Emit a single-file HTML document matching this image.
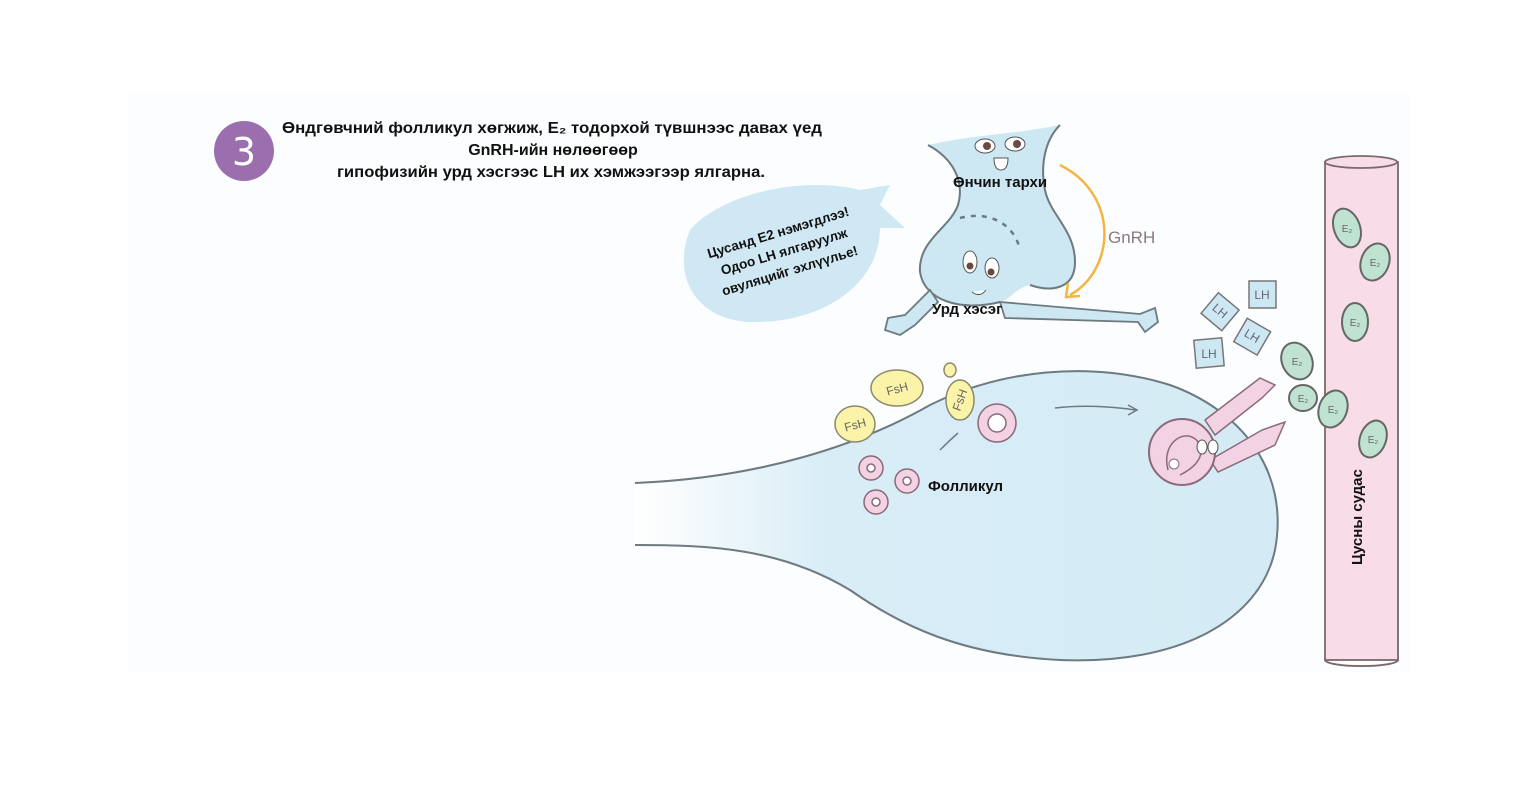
<!DOCTYPE html>
<html><head><meta charset="utf-8"><style>
body{margin:0;width:1514px;height:793px;background:#fff;overflow:hidden;position:relative;font-family:"Liberation Sans","DejaVu Sans",sans-serif}
svg{position:absolute;left:0;top:0}
</style></head><body>
<svg width="1514" height="793" viewBox="0 0 1514 793">
<defs>
<linearGradient id="bg" x1="0" x2="1" y1="0" y2="0">
<stop offset="0" stop-color="#ffffff"/><stop offset="0.3" stop-color="#d8edf6"/><stop offset="1" stop-color="#d4ebf5"/>
</linearGradient>
</defs>
<rect x="128" y="92" width="1282" height="580" fill="#fbfdfe"/>
<circle cx="244" cy="151" r="30" fill="#9b6fae"/>
<text x="244" y="165" font-size="38" fill="#fff" text-anchor="middle" font-family="DejaVu Sans">3</text>
<g font-weight="bold" font-size="16" text-anchor="middle" fill="#111">
<text x="552" y="133" textLength="540" lengthAdjust="spacingAndGlyphs">Өндгөвчний фолликул хөгжиж, E₂ тодорхой түвшнээс давах үед</text>
<text x="553" y="155">GnRH-ийн нөлөөгөөр</text>
<text x="551" y="177" textLength="428" lengthAdjust="spacingAndGlyphs">гипофизийн урд хэсгээс LH их хэмжээгээр ялгарна.</text>
</g>
<path d="M635 483 C760 478 860 445 930 405 C1000 370 1090 360 1170 385 C1240 410 1290 470 1275 550 C1260 620 1180 665 1060 660 C960 655 900 625 850 590 C780 548 710 545 635 545 Z" fill="url(#bg)"/>
<path d="M635 483 C760 478 860 445 930 405 C1000 370 1090 360 1170 385 C1240 410 1290 470 1275 550 C1260 620 1180 665 1060 660 C960 655 900 625 850 590 C780 548 710 545 635 545" fill="none" stroke="#6d7a80" stroke-width="2"/>
<path d="M1055 408 C1080 405 1110 406 1135 410" stroke="#6d7a80" stroke-width="1.5" fill="none"/>
<path d="M1128 405 L1137 410 L1128 415" stroke="#6d7a80" stroke-width="1.5" fill="none"/>
<path d="M940 450 Q950 440 958 433" stroke="#6d7a80" stroke-width="1.5" fill="none"/>
<path d="M690 230 C720 195 800 175 860 190 L890 185 L880 205 L905 228 L880 228 C880 280 830 320 760 322 C700 325 670 280 690 230 Z" fill="#cfe8f3"/>
<g transform="rotate(-17 785 255)" font-size="13.5" font-weight="bold" text-anchor="middle" fill="#111">
<text x="785" y="236">Цусанд E2 нэмэгдлээ!</text>
<text x="785" y="256">Одоо LH ялгаруулж</text>
<text x="785" y="276">овуляцийг эхлүүлье!</text>
</g>
<path d="M928 145 C952 158 965 180 958 205 C950 228 918 240 920 272 C924 300 960 312 1000 302 C1010 300 1015 288 1030 285 C1050 292 1075 290 1075 262 C1075 230 1050 215 1045 190 C1040 165 1045 140 1060 125 C1010 135 970 135 928 145 Z" fill="#cde8f3"/>
<path d="M928 145 C952 158 965 180 958 205 C950 228 918 240 920 272 C924 300 960 312 1000 302 M1030 285 C1050 292 1075 290 1075 262 C1075 230 1050 215 1045 190 C1040 165 1045 140 1060 125" fill="none" stroke="#6d7a80" stroke-width="2"/>
<path d="M960 218 C990 210 1015 225 1020 250" fill="none" stroke="#6d7a80" stroke-width="2.5" stroke-dasharray="5 6"/>
<ellipse cx="985" cy="146" rx="10" ry="7" fill="#fff" stroke="#555"/><circle cx="987" cy="146" r="4" fill="#6a4a40"/>
<ellipse cx="1015" cy="144" rx="10" ry="7" fill="#fff" stroke="#555"/><circle cx="1017" cy="144" r="4" fill="#6a4a40"/>
<path d="M994 158 h14 q0 12 -7 12 q-7 0 -7 -12z" fill="#fff" stroke="#555"/>
<ellipse cx="970" cy="262" rx="7" ry="11" fill="#fff" stroke="#555"/><circle cx="970" cy="266" r="3.5" fill="#6a4a40"/>
<ellipse cx="992" cy="268" rx="7" ry="10" fill="#fff" stroke="#555"/><circle cx="991" cy="272" r="3.5" fill="#6a4a40"/>
<path d="M972 292 q8 6 14 -2" fill="#fff" stroke="#555"/>
<path d="M1000 302 L1140 314 L1155 308 L1158 322 L1145 332 L1138 322 L1005 318 Z" fill="#cde8f3" stroke="#6d7a80" stroke-width="1.8"/>
<path d="M930 290 L905 315 L888 318 L885 330 L900 335 L915 325 L938 302 Z" fill="#cde8f3" stroke="#6d7a80" stroke-width="1.8"/>
<path d="M1060 165 C1120 195 1115 270 1070 295" fill="none" stroke="#f5b544" stroke-width="2.5"/>
<path d="M1068 283 L1066 297 L1080 296" fill="none" stroke="#f5b544" stroke-width="2.5"/>
<text x="1108" y="243" font-size="17" fill="#8a7a7a">GnRH</text>
<g font-size="15" font-weight="bold" fill="#111">
<text x="953" y="187">Өнчин тархи</text>
<text x="932" y="314">Урд хэсэг</text>
<text x="928" y="491">Фолликул</text>
</g>
<g fill="#fbf3a8" stroke="#8a8a70" stroke-width="1.5">
<ellipse cx="897" cy="388" rx="26" ry="18"/>
<ellipse cx="855" cy="424" rx="20" ry="18"/>
<ellipse cx="960" cy="400" rx="14" ry="20"/>
<ellipse cx="950" cy="370" rx="6" ry="7"/>
</g>
<g font-size="12" fill="#666" text-anchor="middle">
<text x="897" y="393" transform="rotate(-15 897 388)">FsH</text>
<text x="855" y="429" transform="rotate(-15 855 424)">FsH</text>
<text x="960" y="404" transform="rotate(-70 960 400)">FsH</text>
</g>
<g fill="#f3d3e3" stroke="#8a6a78" stroke-width="1.5">
<circle cx="997" cy="423" r="19"/><circle cx="997" cy="423" r="9" fill="#fff"/>
<circle cx="871" cy="468" r="12"/><circle cx="871" cy="468" r="4" fill="#fff"/>
<circle cx="907" cy="481" r="12"/><circle cx="907" cy="481" r="4" fill="#fff"/>
<circle cx="876" cy="502" r="12"/><circle cx="876" cy="502" r="4" fill="#fff"/>
</g>
<path d="M1205 420 L1260 378 L1275 385 L1262 398 L1215 435 Z" fill="#f3d3e3" stroke="#8a6a78" stroke-width="1.5"/>
<path d="M1210 460 L1262 430 L1285 422 L1275 445 L1218 472 Z" fill="#f3d3e3" stroke="#8a6a78" stroke-width="1.5"/>
<circle cx="1182" cy="452" r="33" fill="#f3d3e3" stroke="#8a6a78" stroke-width="2"/>
<path d="M1168 470 C1160 440 1190 425 1200 445 C1205 460 1190 470 1180 475" fill="none" stroke="#8a6a78" stroke-width="1.5"/>
<circle cx="1174" cy="464" r="5" fill="#fff" stroke="#8a6a78"/>
<ellipse cx="1202" cy="447" rx="5" ry="7" fill="#fff" stroke="#555"/>
<ellipse cx="1213" cy="447" rx="5" ry="7" fill="#fff" stroke="#555"/>
<rect x="1325" y="162" width="73" height="498" fill="#f8dde9" stroke="#7a6a6a" stroke-width="1.8"/>
<ellipse cx="1361" cy="162" rx="36" ry="6" fill="#f8dde9" stroke="#7a6a6a" stroke-width="1.8"/>
<path d="M1325 660 a36 6 0 0 0 73 0" fill="none" stroke="#7a6a6a" stroke-width="1.8"/>
<text transform="translate(1362 565) rotate(-90)" font-size="15" font-weight="bold" fill="#111">Цусны судас</text>
<g fill="#cde8f3" stroke="#777" stroke-width="1.5">
<rect x="1249" y="281" width="27" height="27"/>
<rect x="1207" y="298" width="27" height="27" transform="rotate(40 1220 311)"/>
<rect x="1239" y="323" width="27" height="27" transform="rotate(30 1252 336)"/>
<rect x="1195" y="339" width="28" height="28" transform="rotate(-5 1209 353)"/>
</g>
<g font-size="12" fill="#667" text-anchor="middle">
<text x="1262" y="299">LH</text>
<text x="1220" y="315" transform="rotate(40 1220 311)">LH</text>
<text x="1252" y="340" transform="rotate(30 1252 336)">LH</text>
<text x="1209" y="358">LH</text>
</g>
<g fill="#bfe3d0" stroke="#666" stroke-width="2">
<ellipse cx="1347" cy="228" rx="13" ry="20" transform="rotate(-20 1347 228)"/>
<ellipse cx="1375" cy="262" rx="14" ry="19" transform="rotate(20 1375 262)"/>
<ellipse cx="1355" cy="322" rx="13" ry="19"/>
<ellipse cx="1297" cy="361" rx="15" ry="19" transform="rotate(-25 1297 361)"/>
<ellipse cx="1303" cy="398" rx="14" ry="13"/>
<ellipse cx="1333" cy="409" rx="14" ry="19" transform="rotate(20 1333 409)"/>
<ellipse cx="1373" cy="439" rx="13" ry="19" transform="rotate(20 1373 439)"/>
</g>
<g font-size="10" fill="#666" text-anchor="middle">
<text x="1347" y="232">E₂</text><text x="1375" y="266">E₂</text><text x="1355" y="326">E₂</text>
<text x="1297" y="365">E₂</text><text x="1303" y="402">E₂</text><text x="1333" y="413">E₂</text><text x="1373" y="443">E₂</text>
</g>
</svg>
</body></html>
